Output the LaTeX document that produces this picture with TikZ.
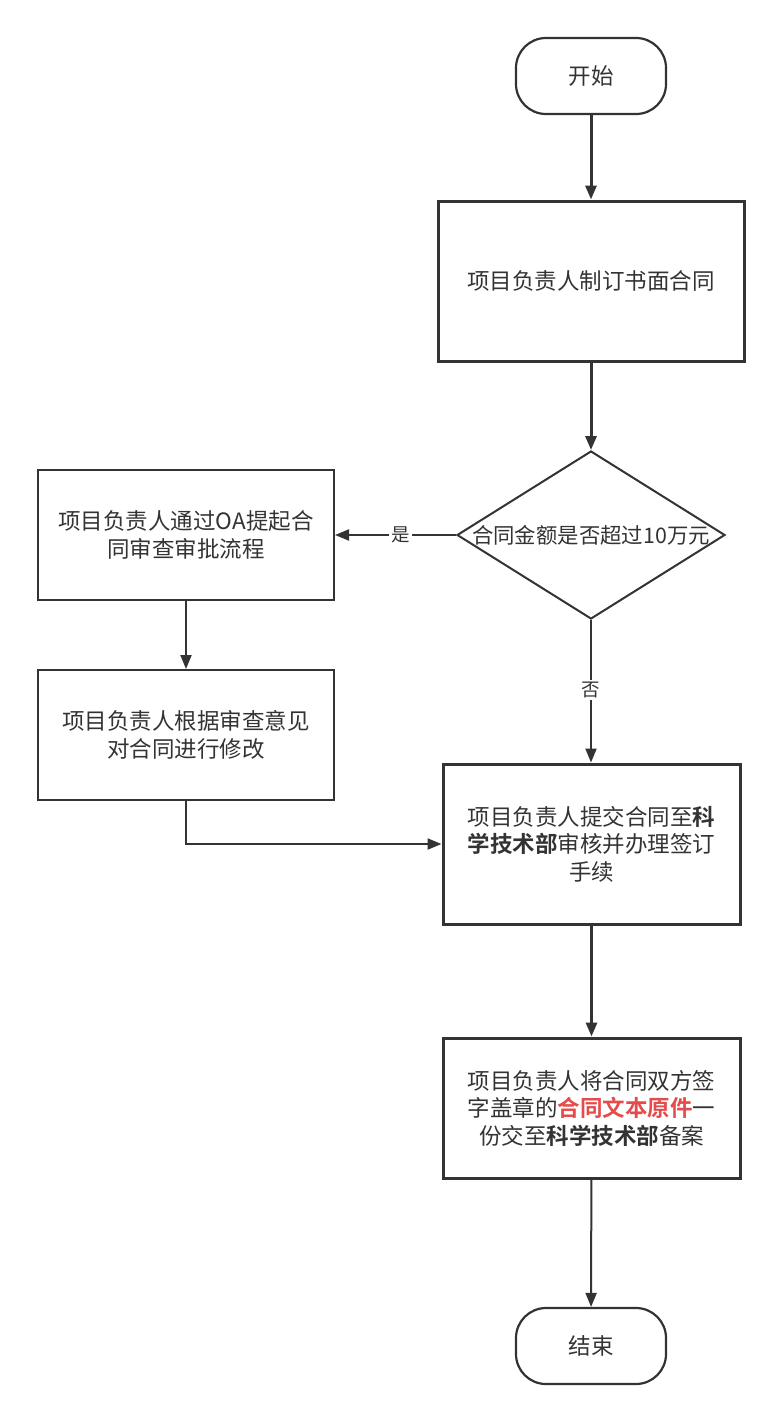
\documentclass[tikz,border=0pt]{standalone}
\usepackage{fontspec}
\setmainfont{Noto Sans CJK SC}
\newfontfamily\cjkb{Noto Sans CJK SC Bold}
\usetikzlibrary{arrows.meta,shapes.geometric}
\definecolor{ink}{HTML}{333333}
\definecolor{hl}{HTML}{E54B4B}
\newcommand{\bd}[1]{{\cjkb #1}}
\tikzset{
  base/.style={draw=ink, text=ink, font=\fontsize{22.5pt}{27.5pt}\selectfont, align=center, inner sep=0pt},
  thinbox/.style={base, line width=2pt, minimum width=296pt, minimum height=130pt},
  term/.style={base, line width=2.2pt, rounded corners=30pt, minimum width=150pt, minimum height=76pt},
  thickarrow/.style={draw=ink, line width=3pt, -{Triangle[length=14pt,width=11pt]}},
  thinarrow/.style={draw=ink, line width=2pt, -{Triangle[length=14pt,width=11pt]}},
  lbl/.style={fill=white, text=ink, font=\fontsize{18.5pt}{20pt}\selectfont, inner sep=2pt}
}
\begin{document}
\begin{tikzpicture}[x=1pt,y=-1pt]
\useasboundingbox (0,0) rectangle (781,1421);
\node[term] (start) at (591,76) {开始};
\node[base, line width=3pt, minimum width=306pt, minimum height=160pt] (b1) at (591,281) {项目负责人制订书面合同};
\node[draw=ink, line width=2pt, shape=diamond, minimum width=268pt, minimum height=168pt, inner sep=0pt] (dia) at (591,535) {};
\node[text=ink, font=\fontsize{21.4pt}{24pt}\selectfont] (diat) at (591,535) {合同金额是否超过10万元};
\node[thinbox] (ba) at (186,535) {项目负责人通过OA提起合\\同审查审批流程};
\node[thinbox] (bb) at (186,735) {项目负责人根据审查意见\\对合同进行修改};
\node[base, line width=3pt, minimum width=297pt, minimum height=160pt] (bc) at (591.5,844) {项目负责人提交合同至\bd{科}\\\bd{学技术部}审核并办理签订\\手续};
\node[base, line width=3pt, minimum width=297pt, minimum height=140pt] (bd) at (591.5,1108) {项目负责人将合同双方签\\字盖章的{\cjkb\color{hl}合同文本原件}一\\份交至\bd{科学技术部}备案};
\node[term] (end) at (591,1346) {结束};
\draw[thickarrow] (start) -- (b1);
\draw[thickarrow] (b1) -- (dia.north);
\draw[thinarrow] (dia.west) -- node[lbl, pos=0.46]{是} (ba.east);
\draw[thinarrow] (dia.south) -- node[lbl, pos=0.49]{否} (bc.north -| dia.south);
\draw[thinarrow] (ba) -- (bb);
\draw[thinarrow] (bb.south) |- (bc.west);
\draw[thickarrow] (bc) -- (bd);
\draw[thinarrow] (bd) -- (end);
\end{tikzpicture}
\end{document}
